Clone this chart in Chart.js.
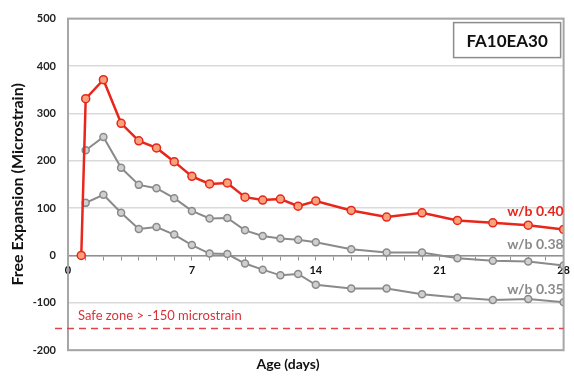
<!DOCTYPE html>
<html>
<head>
<meta charset="utf-8">
<script src="https://cdn.jsdelivr.net/npm/chart.js@4/dist/chart.umd.min.js"></script>
<style>
html,body{margin:0;padding:0;background:#fff;}
#wrap{width:574px;height:381px;}
</style>
</head>
<body>
<div id="wrap"><canvas id="c" width="574" height="381"></canvas></div>
<script>
// ---- data ----
const days = [1,2,3,4,5,6,7,8,9,10,11,12,13,14,16,18,20,22,24,26,28];
const redStart = {x: 0.75, y: 0};
const wb040 = [331,371,279,242,227,198,167,151,153,123,117,119,104,115,95,81,90,74,69,64,55];
const wb038 = [222,250,185,149,142,121,94,78,79,53,41,36,33,28,13,6,6,-6,-11,-13,-21];
const wb035 = [111,128,90,56,60,44,22,4,3,-17,-30,-42,-39,-62,-70,-70,-82,-89,-94,-92,-99];
const seriesNames = ['w/b 0.40','w/b 0.38','w/b 0.35'];
const yTicks = [500,400,300,200,100,0,-100,-200];
const xLabelDays = [0,7,14,21,28];
const safeLimit = -150;
const safeText = 'Safe zone > -150 microstrain';
const boxTitle = 'FA10EA30';
const xTitle = 'Age (days)';
const yTitle = 'Free Expansion (Microstrain)';

const pts = vals => days.map((d,i)=>({x:d,y:vals[i]}));

const RED = '#e8261b';
const GRAY = '#8a8a8a';

const annot = {
  id:'annot',
  afterDraw(chart){
    const {ctx, chartArea:a, scales:{x,y}} = chart;
    ctx.save();
    // plot border
    ctx.strokeStyle = '#a6a6a6';
    ctx.lineWidth = 2;
    ctx.strokeRect(a.left, a.top, a.right-a.left, a.bottom-a.top);
    // safe zone dashed line
    const ys = y.getPixelForValue(safeLimit) + 2;
    ctx.strokeStyle = '#e0444a';
    ctx.lineWidth = 1.5;
    ctx.setLineDash([7,5]);
    ctx.beginPath();
    ctx.moveTo(a.left-13, ys);
    ctx.lineTo(a.right, ys);
    ctx.stroke();
    ctx.setLineDash([]);
    ctx.fillStyle = '#d8333a';
    ctx.font = '13px Lato, "Open Sans", sans-serif';
    ctx.textAlign = 'left';
    ctx.textBaseline = 'middle';
    ctx.fillText(safeText, a.left+10, y.getPixelForValue(-127));
    // series labels at the right end
    ctx.textAlign = 'right';
    ctx.font = 'bold 14px Lato, "Open Sans", sans-serif';
    const xr = x.getPixelForValue(28);
    const lab = [[seriesNames[0], 92, RED],[seriesNames[1], 23, GRAY],[seriesNames[2], -72, GRAY]];
    lab.forEach(([t,v,c])=>{ ctx.fillStyle=c; ctx.fillText(t, xr, y.getPixelForValue(v)); });
    // title box
    const bw = 107, bh = 35;
    const bx = a.right - 3 - bw, by = a.top + 4;
    ctx.fillStyle = '#fff';
    ctx.fillRect(bx,by,bw,bh);
    ctx.strokeStyle = '#8c8c8c';
    ctx.lineWidth = 1.5;
    ctx.strokeRect(bx,by,bw,bh);
    ctx.fillStyle = '#111';
    ctx.font = 'bold 17px Lato, "Open Sans", sans-serif';
    ctx.textAlign = 'center';
    ctx.fillText(boxTitle, bx+bw/2, by+bh/2+1);
    ctx.restore();
  }
};

new Chart(document.getElementById('c'), {
  type:'line',
  data:{
    datasets:[
      {label:seriesNames[0], data:[redStart, ...pts(wb040)], borderColor:RED, borderWidth:2.5,
       pointRadius:4, pointBackgroundColor:'#f7a27a', pointBorderColor:RED, pointBorderWidth:1.5, order:0},
      {label:seriesNames[1], data:pts(wb038), borderColor:GRAY, borderWidth:2,
       pointRadius:3.5, pointBackgroundColor:'#cfcfcf', pointBorderColor:GRAY, pointBorderWidth:1.5, order:1},
      {label:seriesNames[2], data:pts(wb035), borderColor:GRAY, borderWidth:2,
       pointRadius:3.5, pointBackgroundColor:'#cfcfcf', pointBorderColor:GRAY, pointBorderWidth:1.5, order:2}
    ]
  },
  options:{
    responsive:false,
    animation:false,
    layout:{padding:{left:8,right:6,top:13,bottom:0}},
    plugins:{
      legend:{display:false},
      tooltip:{enabled:false},
      title:{display:true, position:'bottom', text:xTitle, color:'#111',
        font:{family:'Lato, "Open Sans", sans-serif', size:14, weight:'bold'}, padding:{top:6,bottom:8}}
    },
    scales:{
      x:{type:'linear', position:{y:0}, min:0, max:28,
        ticks:{stepSize:1, autoSkip:false, maxRotation:0, padding:4, color:'#111',
          font:{family:'Lato, "Open Sans", sans-serif', size:11, weight:'bold'},
          callback:v=> xLabelDays.includes(v) ? String(v) : ''},
        grid:{drawOnChartArea:false, drawTicks:true, tickLength:4, color:'#909090'},
        border:{color:'#909090', width:1.5}
      },
      y:{min:-200, max:500, position:'left',
        afterBuildTicks:s=>{ s.ticks = yTicks.map(v=>({value:v})); },
        afterFit:s=>{ s.width = 60; },
        ticks:{padding:12, color:'#222',
          font:{family:'Lato, "Open Sans", sans-serif', size:11, weight:'bold'}},
        grid:{color:'#dadada', lineWidth:1.5, drawTicks:false},
        border:{color:'#a6a6a6', width:2},
        title:{display:true, text:yTitle, color:'#111', padding:{top:0,bottom:0},
          font:{family:'Lato, "Open Sans", sans-serif', size:16, weight:'bold'}}
      }
    }
  },
  plugins:[annot]
});
</script>
</body>
</html>
